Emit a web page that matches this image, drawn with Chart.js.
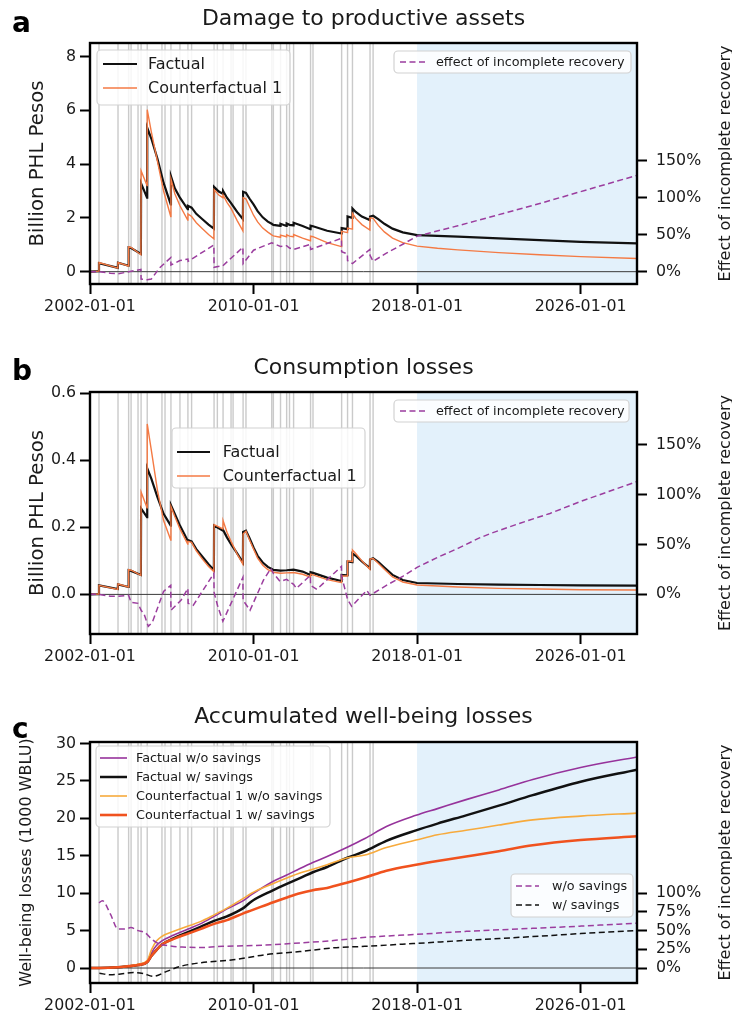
<!DOCTYPE html>
<html>
<head>
<meta charset="utf-8">
<title>Disaster losses and incomplete recovery</title>
<script src="https://cdn.jsdelivr.net/npm/chart.js@4.4.1/dist/chart.umd.min.js"></script>
<style>
  html, body { margin: 0; padding: 0; background: #ffffff; }
  #figure { position: relative; width: 732px; height: 1023px; overflow: hidden; background: #fff; }
  #figure canvas { position: absolute; left: 0; }
</style>
</head>
<body>
<div id="figure">
  <canvas id="panelA" width="732" height="341" style="top:0px"></canvas>
  <canvas id="panelB" width="732" height="341" style="top:341px"></canvas>
  <canvas id="panelC" width="732" height="341" style="top:682px"></canvas>
</div>
<script>
// ---------- shared time axis ----------
const xMin = 2002;
const xMax = 2028.76;
const xTickYears = [2002, 2010, 2018, 2026];
const projectionStart = 2018;
// typhoon / disaster event dates (decimal years)
const eventYears = [2002.44, 2003.37, 2003.89, 2004.01, 2004.35, 2004.50, 2004.80, 2005.52, 2005.67,
  2005.96, 2006.40, 2006.79, 2006.97, 2008.07, 2008.23, 2008.51, 2008.90, 2009.00, 2009.49, 2009.63,
  2010.89, 2010.97, 2011.32, 2011.62, 2011.76, 2011.96, 2012.79, 2012.91, 2014.31, 2014.60, 2014.84,
  2015.70, 2015.85];

// ---------- panel a: damage to productive assets (billion PHP) ----------
const assetYears = [2002.00, 2002.43, 2002.44, 2003.36, 2003.37, 2003.88, 2003.89, 2004.01, 2004.49, 2004.50,
  2004.79, 2004.80, 2005.00, 2005.30, 2005.60, 2005.95, 2005.96, 2006.15, 2006.40, 2006.78,
  2006.79, 2006.97, 2007.20, 2007.50, 2007.80, 2008.06, 2008.07, 2008.30, 2008.50, 2008.51,
  2008.70, 2008.90, 2009.20, 2009.48, 2009.49, 2009.63, 2009.80, 2010.00, 2010.20, 2010.45,
  2010.70, 2010.89, 2010.97, 2011.31, 2011.32, 2011.61, 2011.62, 2011.76, 2011.95, 2011.96,
  2012.40, 2012.78, 2012.79, 2012.91, 2013.60, 2014.30, 2014.31, 2014.59, 2014.60, 2014.83,
  2014.84, 2015.00, 2015.30, 2015.69, 2015.70, 2015.85, 2016.10, 2016.40, 2016.80, 2017.30,
  2018.00, 2019.00, 2020.00, 2022.00, 2024.00, 2026.00, 2028.76];
const assetFactual = [0.00, 0.02, 0.32, 0.14, 0.33, 0.22, 0.90, 0.88, 0.66, 3.28,
  2.75, 5.35, 4.95, 4.20, 3.30, 2.50, 3.55, 3.10, 2.75, 2.32,
  2.45, 2.38, 2.15, 1.95, 1.75, 1.60, 3.15, 2.98, 2.90, 3.00,
  2.75, 2.55, 2.22, 1.95, 2.97, 2.93, 2.72, 2.50, 2.25, 2.02,
  1.86, 1.78, 1.74, 1.70, 1.78, 1.70, 1.79, 1.74, 1.72, 1.82,
  1.70, 1.58, 1.71, 1.69, 1.52, 1.42, 1.62, 1.58, 2.05, 2.00,
  2.35, 2.22, 2.05, 1.92, 2.05, 2.08, 1.95, 1.78, 1.60, 1.46,
  1.36, 1.33, 1.30, 1.24, 1.17, 1.11, 1.05];
const assetCounterfactual = [0.00, 0.02, 0.34, 0.13, 0.34, 0.21, 0.92, 0.90, 0.63, 3.75,
  3.20, 6.02, 5.20, 4.10, 3.00, 2.05, 3.45, 2.90, 2.45, 1.92,
  2.15, 2.05, 1.82, 1.60, 1.38, 1.22, 3.05, 2.85, 2.75, 2.85,
  2.58, 2.35, 1.90, 1.52, 2.75, 2.70, 2.42, 2.10, 1.85, 1.62,
  1.47, 1.37, 1.33, 1.28, 1.36, 1.30, 1.37, 1.32, 1.30, 1.38,
  1.25, 1.15, 1.32, 1.30, 1.08, 0.93, 1.50, 1.45, 1.62, 1.58,
  2.17, 1.98, 1.75, 1.55, 2.00, 1.98, 1.72, 1.48, 1.25, 1.08,
  0.95, 0.87, 0.81, 0.71, 0.63, 0.56, 0.49];
const assetEffectYears = [2002.00, 2002.44, 2003.00, 2003.37, 2003.89, 2004.49, 2004.50, 2004.80, 2005.00,
  2005.40, 2005.95, 2005.96, 2006.40, 2006.79, 2006.80, 2008.06, 2008.07, 2008.50, 2009.48, 2009.49,
  2010.00, 2010.89, 2011.32, 2011.62, 2011.76, 2011.96, 2012.78, 2012.79, 2014.30, 2014.31, 2014.59,
  2014.60, 2014.84, 2015.69, 2015.70, 2015.85, 2016.50, 2017.30, 2018.00, 2020.00, 2022.00, 2024.00,
  2026.00, 2028.76];
const assetEffect = [0, 0, -2, -3, 0, 3, -10, -11, -10,
  5, 19, 9, 15, 17, 14, 36, 6, 8, 33, 11,
  29, 39, 34, 35, 32, 30, 37, 30, 45, 27, 24,
  15, 11, 30, 22, 14, 25, 37, 48, 62, 77, 92,
  108, 130];
const assetTicks = [0, 2, 4, 6, 8];
const effectTicksAB = [0, 50, 100, 150];

// ---------- panel b: consumption losses (billion PHP) ----------
const consYears = [2002.00, 2002.43, 2002.44, 2003.36, 2003.37, 2003.88, 2003.89, 2004.01, 2004.49, 2004.50,
  2004.79, 2004.80, 2005.00, 2005.30, 2005.60, 2005.95, 2005.96, 2006.15, 2006.40, 2006.78,
  2006.79, 2006.97, 2007.20, 2007.50, 2007.80, 2008.06, 2008.07, 2008.50, 2008.51, 2008.70,
  2008.90, 2009.20, 2009.48, 2009.49, 2009.63, 2009.80, 2010.00, 2010.20, 2010.45, 2010.70,
  2010.89, 2010.97, 2011.32, 2011.62, 2011.96, 2012.40, 2012.78, 2012.79, 2012.91, 2013.60,
  2014.30, 2014.31, 2014.59, 2014.60, 2014.83, 2014.84, 2015.00, 2015.30, 2015.69, 2015.70,
  2015.85, 2016.10, 2016.40, 2016.80, 2017.30, 2018.00, 2020.00, 2022.00, 2024.00, 2026.00,
  2028.76];
const consFactual = [0.000, 0.001, 0.027, 0.016, 0.030, 0.022, 0.072, 0.070, 0.058, 0.256,
  0.230, 0.376, 0.345, 0.290, 0.240, 0.205, 0.266, 0.240, 0.205, 0.160,
  0.162, 0.158, 0.135, 0.112, 0.090, 0.073, 0.205, 0.190, 0.192, 0.170,
  0.150, 0.122, 0.095, 0.186, 0.190, 0.168, 0.140, 0.115, 0.095, 0.082,
  0.076, 0.073, 0.071, 0.072, 0.074, 0.068, 0.058, 0.066, 0.064, 0.050,
  0.040, 0.058, 0.057, 0.098, 0.096, 0.122, 0.115, 0.098, 0.078, 0.104,
  0.108, 0.097, 0.080, 0.058, 0.043, 0.034, 0.031, 0.029, 0.028, 0.027,
  0.026];
const consCounterfactual = [0.000, 0.001, 0.027, 0.015, 0.031, 0.022, 0.074, 0.072, 0.057, 0.305,
  0.258, 0.508, 0.430, 0.310, 0.220, 0.162, 0.262, 0.232, 0.195, 0.150,
  0.158, 0.155, 0.130, 0.105, 0.083, 0.068, 0.208, 0.195, 0.220, 0.185,
  0.158, 0.120, 0.090, 0.180, 0.188, 0.163, 0.135, 0.108, 0.087, 0.074,
  0.069, 0.066, 0.063, 0.064, 0.065, 0.060, 0.052, 0.060, 0.058, 0.044,
  0.035, 0.055, 0.055, 0.100, 0.098, 0.132, 0.122, 0.100, 0.075, 0.105,
  0.107, 0.093, 0.075, 0.052, 0.037, 0.028, 0.022, 0.018, 0.016, 0.014,
  0.013];
const consEffectYears = [2002.00, 2002.44, 2003.00, 2003.37, 2003.89, 2004.01, 2004.35, 2004.50, 2004.65,
  2004.85, 2005.05, 2005.60, 2005.95, 2005.96, 2006.45, 2006.79, 2006.80, 2007.05, 2008.06, 2008.07,
  2008.25, 2008.50, 2009.48, 2009.49, 2009.83, 2010.48, 2010.85, 2010.97, 2011.30, 2011.62, 2011.96,
  2012.10, 2012.78, 2012.79, 2013.10, 2014.30, 2014.31, 2014.60, 2014.80, 2015.54, 2015.70, 2016.50,
  2017.30, 2018.00, 2019.00, 2020.00, 2021.00, 2021.60, 2023.00, 2024.50, 2026.00, 2028.76];
const consEffect = [0, 0, -2, -2, -1, -8, -9, -16, -20,
  -32, -28, 3, 9, -16, -6, 6, -9, -11, 21, 2,
  -12, -27, 17, -6, -16, 14, 26, 21, 13, 15, 10,
  6, 19, 9, 5, 28, 18, -5, -12, 4, -1, 9,
  18, 27, 37, 46, 56, 61, 71, 81, 93, 113];
const consTicks = [0, 0.2, 0.4, 0.6];

// ---------- panel c: accumulated well-being losses (1000 WBLU) ----------
const wbYears = [2002.00, 2002.44, 2003.37, 2003.89, 2004.35, 2004.80, 2005.00, 2005.25, 2005.50, 2006.10,
  2006.80, 2007.40, 2008.07, 2008.70, 2009.50, 2009.90, 2010.97, 2011.60, 2012.27, 2012.90, 2013.60,
  2014.56, 2015.45, 2016.50, 2017.95, 2019.00, 2020.40, 2022.00, 2023.66, 2026.00, 2028.76];
const wbFactualNoSavings = [0, 0, 0.1, 0.25, 0.45, 0.9, 2.0, 3.0, 3.6, 4.4,
  5.2, 5.9, 6.9, 7.9, 9.0, 9.8, 11.6, 12.4, 13.3, 14.1, 14.9,
  16.1, 17.3, 18.9, 20.4, 21.3, 22.5, 23.8, 25.2, 26.8, 28.2];
const wbFactualSavings = [0, 0, 0.1, 0.25, 0.4, 0.8, 1.6, 2.4, 3.1, 4.0,
  4.8, 5.5, 6.3, 6.9, 8.0, 8.9, 10.4, 11.2, 12.0, 12.8, 13.5,
  14.7, 15.6, 17.0, 18.4, 19.3, 20.4, 21.7, 23.1, 24.9, 26.5];
const wbCounterNoSavings = [0, 0, 0.1, 0.25, 0.5, 1.0, 2.4, 3.6, 4.2, 4.9,
  5.6, 6.2, 7.1, 8.0, 9.3, 10.0, 11.3, 12.0, 12.7, 13.2, 13.8,
  14.7, 15.1, 16.1, 17.1, 17.8, 18.4, 19.1, 19.8, 20.3, 20.7];
const wbCounterSavings = [0, 0, 0.1, 0.25, 0.4, 0.8, 1.6, 2.4, 3.1, 3.9,
  4.6, 5.2, 5.9, 6.4, 7.3, 7.7, 8.8, 9.4, 10.0, 10.4, 10.7,
  11.4, 12.1, 13.0, 13.8, 14.3, 14.9, 15.6, 16.4, 17.1, 17.6];
const wbEffectNoSavingsYears = [2002.44, 2002.60, 2003.00, 2003.37, 2003.70, 2004.00, 2004.35, 2004.70, 2005.00,
  2005.40, 2005.80, 2006.50, 2007.50, 2008.50, 2010.00, 2012.00, 2014.00, 2015.50, 2018.00, 2020.40,
  2023.66, 2026.00, 2028.76];
const wbEffectNoSavings = [87, 90, 72, 52, 52, 54, 50, 47, 39,
  32, 30, 28, 27.5, 29, 30, 33, 37, 41, 45, 49,
  53, 56, 60];
const wbEffectSavingsYears = [2002.46, 2002.98, 2003.50, 2004.12, 2004.61, 2005.10, 2005.75, 2006.40, 2007.38,
  2009.00, 2010.64, 2012.27, 2013.90, 2015.45, 2018.00, 2020.40, 2023.66, 2026.00, 2028.76];
const wbEffectSavings = [-7, -9, -8, -6, -7.5, -11, -4.5, 2, 7,
  11, 18, 22, 27, 29, 33, 37, 42, 46, 50];
const wbTicks = [0, 5, 10, 15, 20, 25, 30];
const wbEffectTicks = [0, 25, 50, 75, 100];

// ---------- styling ----------
const FONT = "'DejaVu Sans', 'Liberation Sans', sans-serif";
const TEXT = '#1a1a1a';
const TICK_SIZE = 15.8;
const COL_FACTUAL = '#111111';
const COL_COUNTER = '#f47a44';
const COL_EFFECT = '#9b3d9e';
const COL_WB_PURPLE = '#96339b';
const COL_WB_YELLOW = '#f7aa3c';
const COL_WB_RED = '#f0521e';
const DASH = [6, 3.5];

Chart.defaults.font.family = FONT;
Chart.defaults.color = TEXT;

function series(xs, ys) {
  return xs.map((x, i) => ({ x: x, y: ys[i] }));
}

function line(label, xs, ys, color, width, axis, order, dash, smooth) {
  const ds = {
    label: label,
    data: series(xs, ys),
    borderColor: color,
    backgroundColor: color,
    borderWidth: width,
    borderDash: dash || [],
    yAxisID: axis,
    order: order,
    pointRadius: 0,
    tension: 0,
    fill: false
  };
  if (smooth) ds.cubicInterpolationMode = 'monotone';
  return ds;
}

function axisTicks(values) {
  return function (scale) { scale.ticks = values.map(v => ({ value: v })); };
}

const tickMarks = { drawOnChartArea: false, drawTicks: true, tickLength: 10, tickWidth: 2, tickColor: '#000' };

function drawRotated(ctx, text, baselineX, centerY, size) {
  ctx.save();
  ctx.translate(baselineX, centerY);
  ctx.rotate(-Math.PI / 2);
  ctx.font = size + 'px ' + FONT;
  ctx.fillStyle = TEXT;
  ctx.textAlign = 'center';
  ctx.textBaseline = 'alphabetic';
  ctx.fillText(text, 0, 0);
  ctx.restore();
}

function drawLegend(ctx, chart, lg) {
  const [bx, by, bw, bh] = lg.box;
  ctx.save();
  ctx.beginPath();
  if (ctx.roundRect) ctx.roundRect(bx, by, bw, bh, 4); else ctx.rect(bx, by, bw, bh);
  ctx.fillStyle = 'rgba(255,255,255,0.85)';
  ctx.fill();
  ctx.lineWidth = 1.2;
  ctx.strokeStyle = '#d2d2d2';
  ctx.stroke();
  ctx.font = lg.size + 'px ' + FONT;
  ctx.textAlign = 'left';
  ctx.textBaseline = 'middle';
  lg.rows.forEach(([idx, ry]) => {
    const ds = chart.data.datasets[idx];
    ctx.beginPath();
    ctx.setLineDash(ds.borderDash || []);
    ctx.strokeStyle = ds.borderColor;
    ctx.lineWidth = ds.borderWidth;
    ctx.moveTo(lg.handle[0], ry);
    ctx.lineTo(lg.handle[1], ry);
    ctx.stroke();
    ctx.setLineDash([]);
    ctx.fillStyle = TEXT;
    ctx.fillText(ds.label, lg.textX, ry + 0.5);
  });
  ctx.restore();
}

function decorations(p) {
  return {
    id: 'panelDecorations',
    beforeDatasetsDraw(chart) {
      const { ctx, chartArea: a, scales } = chart;
      ctx.save();
      ctx.beginPath();
      ctx.rect(a.left, a.top, a.right - a.left, a.bottom - a.top);
      ctx.clip();
      // projected period
      const xs = scales.x.getPixelForValue(projectionStart);
      ctx.fillStyle = '#e3f1fb';
      ctx.fillRect(xs, a.top, a.right - xs, a.bottom - a.top);
      // disaster events
      ctx.strokeStyle = 'rgba(150,150,150,0.5)';
      ctx.lineWidth = 1.4;
      eventYears.forEach(e => {
        const px = scales.x.getPixelForValue(e);
        ctx.beginPath();
        ctx.moveTo(px, a.top);
        ctx.lineTo(px, a.bottom);
        ctx.stroke();
      });
      // zero line
      const y0 = scales.y.getPixelForValue(0);
      ctx.strokeStyle = '#3a3a3a';
      ctx.lineWidth = 1;
      ctx.beginPath();
      ctx.moveTo(a.left, y0);
      ctx.lineTo(a.right, y0);
      ctx.stroke();
      ctx.restore();
    },
    afterDraw(chart) {
      const { ctx, chartArea: a } = chart;
      // axes frame
      ctx.save();
      ctx.strokeStyle = '#000';
      ctx.lineWidth = 2.4;
      ctx.strokeRect(a.left, a.top, a.right - a.left, a.bottom - a.top);
      ctx.restore();
      // legends
      p.legends.forEach(lg => drawLegend(ctx, chart, lg));
      // titles
      ctx.save();
      ctx.fillStyle = TEXT;
      ctx.textBaseline = 'alphabetic';
      ctx.textAlign = 'center';
      ctx.font = '22px ' + FONT;
      ctx.fillText(p.title, (a.left + a.right) / 2, p.titleBaseline);
      ctx.textAlign = 'left';
      ctx.fillStyle = '#000';
      ctx.font = 'bold 28px ' + FONT;
      ctx.fillText(p.letter, 12, p.letterBaseline);
      ctx.restore();
      const cy = (a.top + a.bottom) / 2;
      drawRotated(ctx, p.leftTitle, p.leftTitleX, cy, p.leftTitleSize);
      drawRotated(ctx, 'Effect of incomplete recovery', 729.5, cy, 16);
    }
  };
}

function makePanel(p) {
  return new Chart(document.getElementById(p.canvas), {
    type: 'line',
    data: { datasets: p.datasets },
    options: {
      responsive: false,
      animation: false,
      devicePixelRatio: 1,
      events: [],
      layout: { padding: { top: p.padTop, left: 0, right: 0, bottom: 0 } },
      plugins: { legend: { display: false }, tooltip: { enabled: false }, title: { display: false } },
      scales: {
        x: {
          type: 'linear', min: xMin, max: xMax,
          afterBuildTicks: axisTicks(xTickYears),
          afterFit: s => { s.height = p.xHeight; },
          ticks: { callback: v => v + '-01-01', font: { size: TICK_SIZE }, color: TEXT, padding: 3, autoSkip: false, maxRotation: 0 },
          grid: tickMarks,
          border: { display: false }
        },
        y: {
          type: 'linear', position: 'left', min: p.y.min, max: p.y.max,
          afterBuildTicks: axisTicks(p.y.ticks),
          afterFit: s => { s.width = 90; },
          ticks: { callback: p.y.fmt, font: { size: TICK_SIZE }, color: TEXT, padding: 4 },
          grid: tickMarks,
          border: { display: false }
        },
        y2: {
          type: 'linear', position: 'right', min: p.y2.min, max: p.y2.max,
          afterBuildTicks: axisTicks(p.y2.ticks),
          afterFit: s => { s.width = 95; },
          ticks: { callback: v => v + '%', font: { size: TICK_SIZE }, color: TEXT, padding: 9 },
          grid: tickMarks,
          border: { display: false }
        }
      }
    },
    plugins: [decorations(p)]
  });
}

// ---------- panel a ----------
makePanel({
  canvas: 'panelA', padTop: 43, xHeight: 57,
  title: 'Damage to productive assets', titleBaseline: 25,
  letter: 'a', letterBaseline: 32,
  leftTitle: 'Billion PHL Pesos', leftTitleSize: 19.7, leftTitleX: 42.7,
  y: { min: -0.458, max: 8.5, ticks: assetTicks, fmt: v => String(v) },
  y2: { min: -16.6, max: 308.6, ticks: effectTicksAB },
  datasets: [
    line('Factual', assetYears, assetFactual, COL_FACTUAL, 2.2, 'y', 2),
    line('Counterfactual 1', assetYears, assetCounterfactual, COL_COUNTER, 1.4, 'y', 1),
    line('effect of incomplete recovery', assetEffectYears, assetEffect, COL_EFFECT, 1.5, 'y2', 0, DASH)
  ],
  legends: [
    { box: [97, 50, 193, 55], size: 16, handle: [103, 137], textX: 148, rows: [[0, 64], [1, 88]] },
    { box: [394, 51, 237, 22], size: 12.8, handle: [400, 426], textX: 436, rows: [[2, 62]] }
  ]
});

// ---------- panel b ----------
makePanel({
  canvas: 'panelB', padTop: 51, xHeight: 48,
  title: 'Consumption losses', titleBaseline: 33,
  letter: 'b', letterBaseline: 39,
  leftTitle: 'Billion PHL Pesos', leftTitleSize: 19.7, leftTitleX: 42.7,
  y: { min: -0.118, max: 0.603, ticks: consTicks, fmt: v => v.toFixed(1) },
  y2: { min: -39.7, max: 202.6, ticks: effectTicksAB },
  datasets: [
    line('Factual', consYears, consFactual, COL_FACTUAL, 2.2, 'y', 2),
    line('Counterfactual 1', consYears, consCounterfactual, COL_COUNTER, 1.4, 'y', 1),
    line('effect of incomplete recovery', consEffectYears, consEffect, COL_EFFECT, 1.5, 'y2', 0, DASH)
  ],
  legends: [
    { box: [172, 87, 193, 60], size: 16, handle: [177, 210], textX: 222.7, rows: [[0, 111], [1, 135]] },
    { box: [394, 59, 235, 22], size: 12.8, handle: [400, 426], textX: 436, rows: [[2, 70]] }
  ]
});

// ---------- panel c ----------
makePanel({
  canvas: 'panelC', padTop: 60, xHeight: 40,
  title: 'Accumulated well-being losses', titleBaseline: 41.3,
  letter: 'c', letterBaseline: 56.3,
  leftTitle: 'Well-being losses (1000 WBLU)', leftTitleSize: 16, leftTitleX: 30.5,
  y: { min: -2.0, max: 30.2, ticks: wbTicks, fmt: v => String(v) },
  y2: { min: -20, max: 302, ticks: wbEffectTicks },
  datasets: [
    line('Factual w/o savings', wbYears, wbFactualNoSavings, COL_WB_PURPLE, 1.6, 'y', 5, null, true),
    line('Factual w/ savings', wbYears, wbFactualSavings, COL_FACTUAL, 2.5, 'y', 4, null, true),
    line('Counterfactual 1 w/o savings', wbYears, wbCounterNoSavings, COL_WB_YELLOW, 1.6, 'y', 3, null, true),
    line('Counterfactual 1 w/ savings', wbYears, wbCounterSavings, COL_WB_RED, 2.6, 'y', 2, null, true),
    line('w/o savings', wbEffectNoSavingsYears, wbEffectNoSavings, COL_EFFECT, 1.5, 'y2', 1, DASH, true),
    line('w/ savings', wbEffectSavingsYears, wbEffectSavings, COL_FACTUAL, 1.5, 'y2', 0, DASH, true)
  ],
  legends: [
    { box: [96, 64, 234, 81], size: 12.8, handle: [100, 127], textX: 136, rows: [[0, 76], [1, 95], [2, 114], [3, 133]] },
    { box: [511, 192, 122, 43], size: 12.8, handle: [516, 539], textX: 552, rows: [[4, 204], [5, 223]] }
  ]
});
</script>
</body>
</html>
